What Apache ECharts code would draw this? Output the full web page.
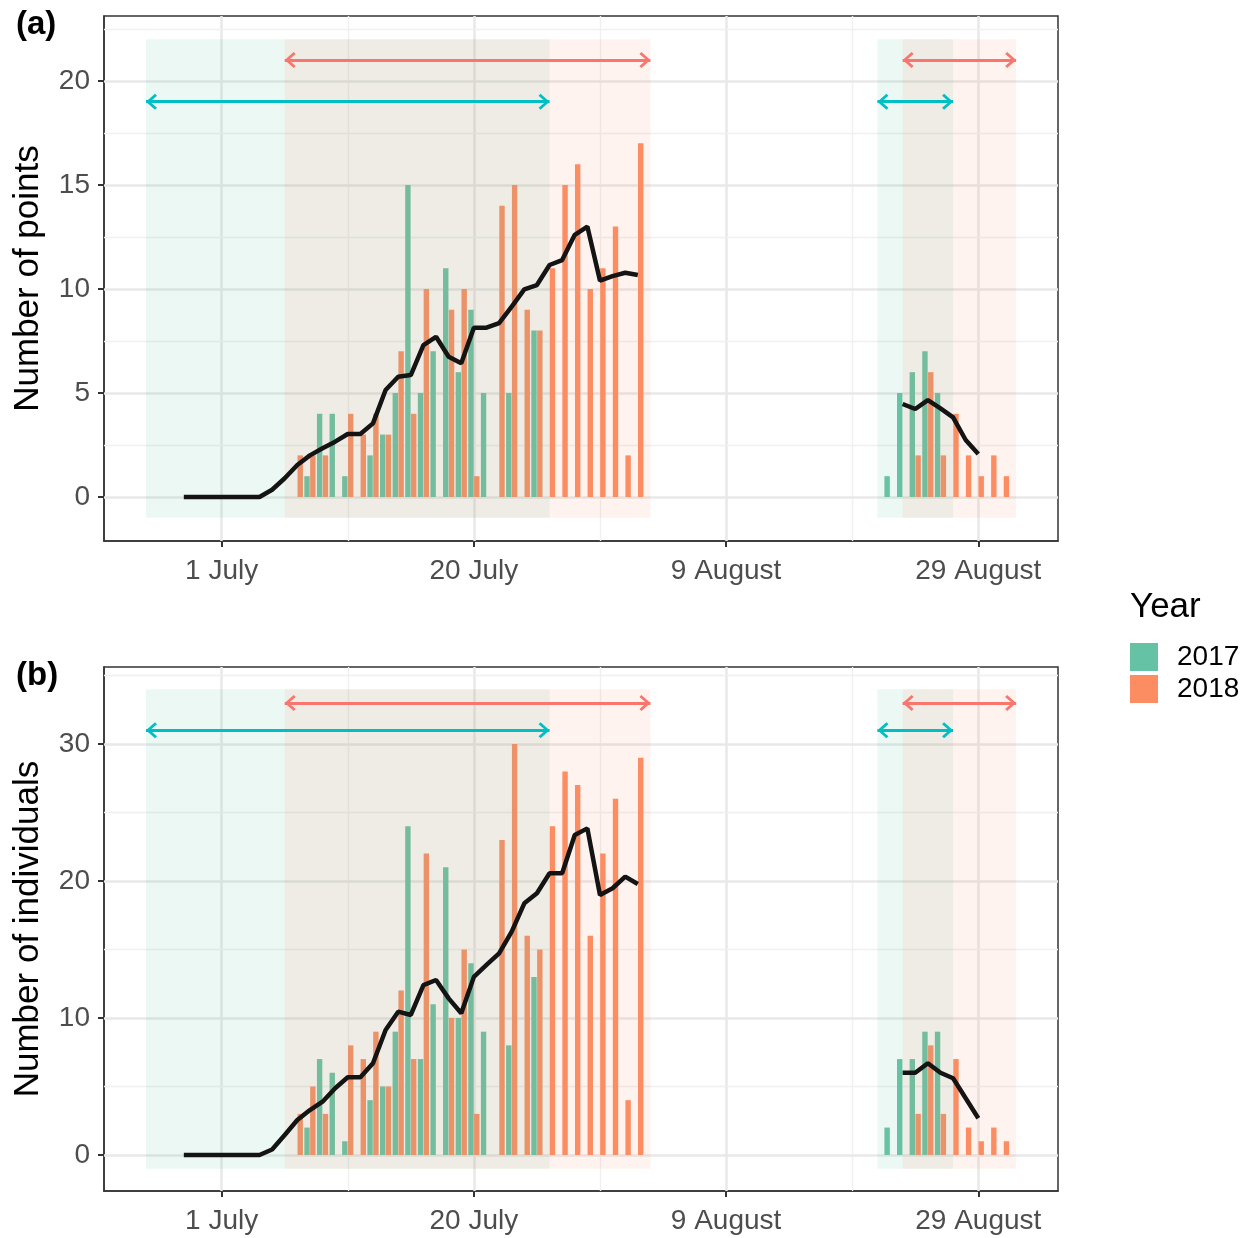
<!DOCTYPE html>
<html>
<head>
<meta charset="utf-8">
<script src="https://cdn.jsdelivr.net/npm/echarts@6/dist/echarts.min.js"></script>
<style>
  html, body { margin: 0; padding: 0; background: #fff; }
  #main { width: 1253px; height: 1238px; }
</style>
</head>
<body>
<div id="main"></div>
<script>
// x = days counted from 1 July on the plot's (evenly spaced) date scale
const xTickValues = [0, 20, 40, 60]
const xTickLabels = ['1 July', '20 July', '9 August', '29 August']
const xMinorValues = [10, 30, 50]

// bars: 2017 (green) and 2018 (orange)
const days2017 = [7, 8, 9, 10, 12, 13, 14, 15, 16, 17, 18, 19, 20, 21, 23, 25, 53, 54, 55, 56, 57]
const points2017 = [1, 4, 4, 1, 2, 3, 5, 15, 5, 7, 11, 6, 9, 5, 5, 8, 1, 5, 6, 7, 5]
const indiv2017 = [2, 7, 6, 1, 4, 5, 9, 24, 7, 11, 21, 10, 14, 9, 8, 13, 2, 7, 7, 9, 9]

const days2018 = [6, 7, 8, 10, 11, 12, 13, 14, 15, 16, 18, 19, 20, 22, 23, 24, 25, 26, 27, 28, 29, 30, 31, 32, 33, 55, 56, 57, 58, 59, 60, 61, 62]
const points2018 = [2, 2, 2, 4, 3, 4, 3, 7, 4, 10, 9, 10, 1, 14, 15, 9, 8, 11, 15, 16, 10, 11, 13, 2, 17, 2, 6, 2, 4, 2, 1, 2, 1]
const indiv2018 = [3, 5, 3, 8, 7, 9, 5, 12, 7, 22, 10, 15, 3, 23, 30, 16, 15, 24, 28, 27, 16, 22, 26, 4, 29, 3, 8, 3, 7, 2, 1, 2, 1]

// black trend line, two pieces
const trendDays1 = [-3, -2, -1, 0, 1, 2, 3, 4, 5, 6, 7, 8, 9, 10, 11, 12, 13, 14, 15, 16, 17, 18, 19, 20, 21, 22, 23, 24, 25, 26, 27, 28, 29, 30, 31, 32, 33]
const trendPoints1 = [0, 0, 0, 0, 0, 0, 0, 0.35, 0.9, 1.54, 2.0, 2.34, 2.66, 3.03, 3.03, 3.54, 5.14, 5.78, 5.86, 7.3, 7.7, 6.74, 6.43, 8.14, 8.14, 8.36, 9.15, 9.98, 10.19, 11.15, 11.39, 12.6, 13.0, 10.4, 10.62, 10.78, 10.67]
const trendIndiv1 = [0, 0, 0, 0, 0, 0, 0, 0.4, 1.46, 2.55, 3.28, 3.89, 4.87, 5.67, 5.67, 6.69, 9.12, 10.46, 10.22, 12.4, 12.77, 11.43, 10.34, 13.0, 13.87, 14.72, 16.3, 18.37, 19.1, 20.56, 20.56, 23.36, 23.84, 18.98, 19.47, 20.32, 19.78]
const trendDays2 = [54, 55, 56, 57, 58, 59, 60]
const trendPoints2 = [4.47, 4.23, 4.66, 4.26, 3.83, 2.74, 2.07]
const trendIndiv2 = [6.0, 6.0, 6.69, 6.0, 5.6, 4.14, 2.68]

// sampling periods (start day, end day)
const period2017 = [[-6, 26], [52, 58]]
const period2018 = [[5, 34], [54, 63]]

const font = 'Liberation Sans, Arial, sans-serif'
const arrowPath = 'path://M8,-11L8.01,-11L8,-10.99ZM8,0L16,9L14,11L8,4L2,11L0,9Z'

const panels = [
  {
    top: 16, height: 525, yMin: -2.115, yMax: 23.12,
    yMajor: [0, 5, 10, 15, 20], yMinor: [2.5, 7.5, 12.5, 17.5, 22.5],
    shadeTop: 22, arrow2017: 19, arrow2018: 21,
    name: 'Number of points', v2017: points2017, v2018: points2018, t1: trendPoints1, t2: trendPoints2
  },
  {
    top: 667, height: 524, yMin: -2.63, yMax: 35.62,
    yMajor: [0, 10, 20, 30], yMinor: [5, 15, 25, 35],
    shadeTop: 34, arrow2017: 31, arrow2018: 33,
    name: 'Number of individuals', v2017: indiv2017, v2018: indiv2018, t1: trendIndiv1, t2: trendIndiv2
  }
]

const majorStyle = { color: '#E8E8E8', width: 2.5, type: 'solid' }
const minorStyle = { color: '#F0F0F0', width: 1.4, type: 'solid' }
const axisLineStyle = { color: '#333', width: 1.5 }

const grids = []
const xAxes = []
const yAxes = []
const series = []

panels.forEach((p, i) => {
  grids.push({
    left: 104, top: p.top, width: 954, height: p.height,
    show: true, borderColor: '#333', borderWidth: 1.5, backgroundColor: 'transparent'
  })
  xAxes.push({
    type: 'value', gridIndex: i, min: -9.33, max: 66.32,
    splitLine: { show: false },
    axisLine: { show: true, onZero: false, lineStyle: axisLineStyle },
    axisTick: { show: true, customValues: xTickValues, length: 6, lineStyle: { color: '#333', width: 2 } },
    axisLabel: {
      customValues: xTickValues,
      formatter: v => xTickLabels[xTickValues.indexOf(v)],
      fontSize: 28, color: '#4D4D4D', margin: 16, fontFamily: font
    }
  })
  yAxes.push({
    type: 'value', gridIndex: i, min: p.yMin, max: p.yMax,
    name: p.name, nameLocation: 'middle', nameGap: 58,
    nameTextStyle: { fontSize: 35, color: '#000', fontFamily: font },
    splitLine: { show: false },
    axisLine: { show: true, onZero: false, lineStyle: axisLineStyle },
    axisTick: { show: true, customValues: p.yMajor, length: 6, lineStyle: { color: '#333', width: 2 } },
    axisLabel: { customValues: p.yMajor, fontSize: 28, color: '#4D4D4D', margin: 14, fontFamily: font }
  })

  // grid lines
  const gridData = []
  xTickValues.forEach(v => gridData.push({ xAxis: v, lineStyle: majorStyle }))
  xMinorValues.forEach(v => gridData.push({ xAxis: v, lineStyle: minorStyle }))
  p.yMajor.forEach(v => gridData.push({ yAxis: v, lineStyle: majorStyle }))
  p.yMinor.forEach(v => gridData.push({ yAxis: v, lineStyle: minorStyle }))
  series.push({
    type: 'line', xAxisIndex: i, yAxisIndex: i, data: [], silent: true, z: 1,
    markLine: { silent: true, z: 1, symbol: 'none', label: { show: false }, animation: false, data: gridData }
  })

  series.push({
    name: '2017', type: 'bar', xAxisIndex: i, yAxisIndex: i, z: 2,
    data: days2017.map((d, k) => [d, p.v2017[k]]),
    barWidth: 5.4, barGap: '8%', itemStyle: { color: '#66C2A5' }
  })
  series.push({
    name: '2018', type: 'bar', xAxisIndex: i, yAxisIndex: i, z: 2,
    data: days2018.map((d, k) => [d, p.v2018[k]]),
    barWidth: 5.4, barGap: '8%', itemStyle: { color: '#FC8D62' }
  })

  // shaded sampling periods
  const shade = []
  period2017.forEach(r => shade.push([{ coord: [r[0], -1], itemStyle: { color: 'rgba(102,194,165,0.12)' } }, { coord: [r[1], p.shadeTop] }]))
  period2018.forEach(r => shade.push([{ coord: [r[0], -1], itemStyle: { color: 'rgba(252,141,98,0.10)' } }, { coord: [r[1], p.shadeTop] }]))
  series.push({
    type: 'line', xAxisIndex: i, yAxisIndex: i, data: [], silent: true, z: 3,
    markArea: { silent: true, z: 3, label: { show: false }, data: shade }
  })

  // trend line
  series.push({
    type: 'line', xAxisIndex: i, yAxisIndex: i, z: 4, showSymbol: false, silent: true,
    data: trendDays1.map((d, k) => [d, p.t1[k]]),
    lineStyle: { color: '#141414', width: 4.5 }
  })
  series.push({
    type: 'line', xAxisIndex: i, yAxisIndex: i, z: 4, showSymbol: false, silent: true,
    data: trendDays2.map((d, k) => [d, p.t2[k]]),
    lineStyle: { color: '#141414', width: 4.5 }
  })

  // double arrows over the sampling periods
  const arrows = []
  period2017.forEach(r => arrows.push([
    { coord: [r[0], p.arrow2017], lineStyle: { color: '#00BFC4', width: 3, type: 'solid' }, itemStyle: { color: '#00BFC4' } },
    { coord: [r[1], p.arrow2017] }
  ]))
  period2018.forEach(r => arrows.push([
    { coord: [r[0], p.arrow2018], lineStyle: { color: '#F8766D', width: 3, type: 'solid' }, itemStyle: { color: '#F8766D' } },
    { coord: [r[1], p.arrow2018] }
  ]))
  series.push({
    type: 'line', xAxisIndex: i, yAxisIndex: i, data: [], silent: true, z: 5,
    markLine: {
      silent: true, z: 5, symbol: [arrowPath, arrowPath], symbolSize: [16, 22],
      label: { show: false }, animation: false, data: arrows
    }
  })
})

const option = {
  animation: false,
  backgroundColor: '#fff',
  textStyle: { fontFamily: font },
  grid: grids,
  xAxis: xAxes,
  yAxis: yAxes,
  legend: {
    data: ['2017', '2018'], orient: 'vertical', left: 1130, top: 643, padding: 0,
    itemWidth: 28, itemHeight: 28, itemGap: 4, icon: 'rect',
    selectedMode: false,
    textStyle: { fontSize: 28, color: '#000', fontFamily: font, padding: [0, 0, 0, 14] }
  },
  graphic: [
    { type: 'text', left: 1130, top: 590, style: { text: 'Year', fill: '#000', font: '35px ' + font } },
    { type: 'text', left: 16, top: 8, style: { text: '(a)', fill: '#000', font: 'bold 33px ' + font } },
    { type: 'text', left: 16, top: 659, style: { text: '(b)', fill: '#000', font: 'bold 33px ' + font } }
  ],
  series: series
}

const chart = echarts.init(document.getElementById('main'))
chart.setOption(option)
</script>
</body>
</html>
